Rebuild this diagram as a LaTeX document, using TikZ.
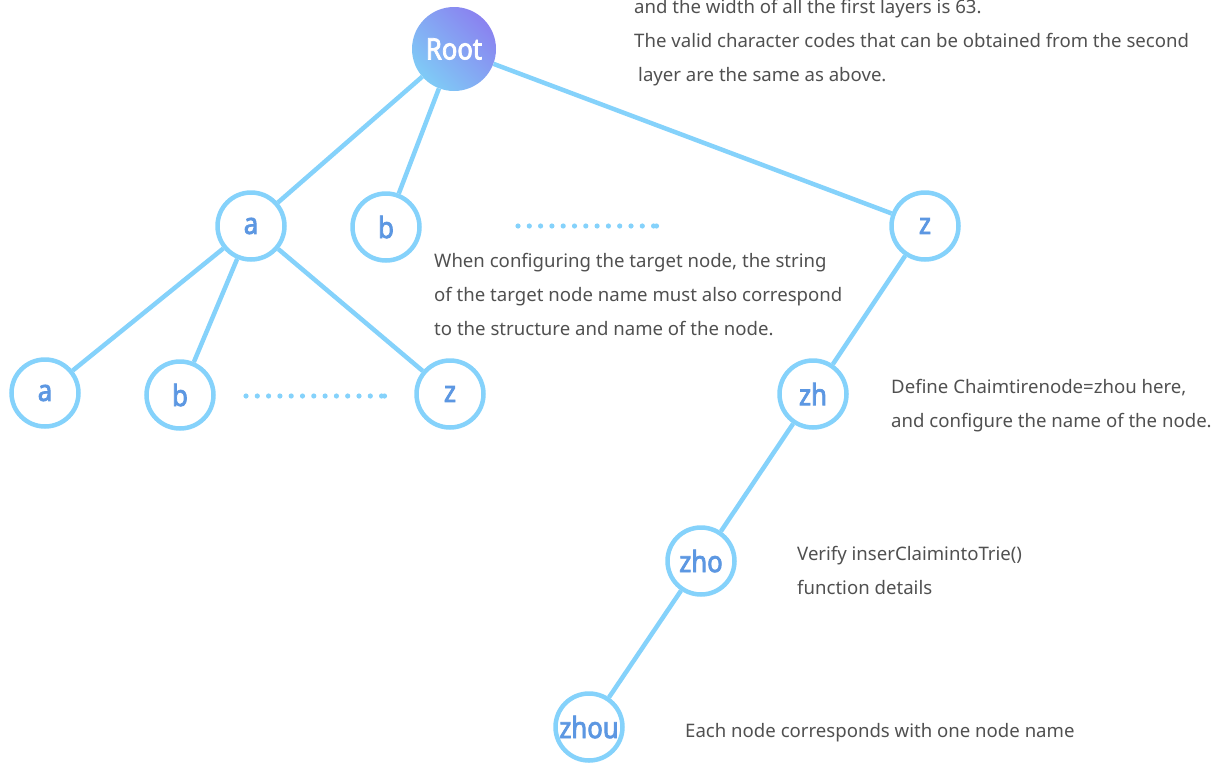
\documentclass[tikz,border=0pt]{standalone}
\usepackage{fontspec}
\setmainfont{Noto Sans}
\newfontfamily\lblfont{Noto Sans}[FakeBold=2.6,FakeStretch=0.87]
\definecolor{edge}{HTML}{85D2FB}
\definecolor{lbl}{HTML}{5C97E2}
\definecolor{txt}{HTML}{505050}
\definecolor{gA}{HTML}{7FCBF6}
\definecolor{gB}{HTML}{4A8BE2}
\definecolor{gC}{HTML}{8A82F0}
\tikzset{
  trienode/.style={circle, draw=edge, line width=4.5pt, minimum size=67pt, inner sep=0pt, fill=white,
    text=lbl, font=\lblfont\fontsize{29.5}{29.5}\selectfont},
  rootnode/.style={circle, minimum size=84pt, inner sep=0pt, shading=axis,
    bottom color=gA, middle color=gB, top color=gC, shading angle=-45,
    text=white, font=\lblfont\fontsize{29.5}{29.5}\selectfont},
  conn/.style={draw=edge, line width=4.5pt},
  note/.style={anchor=base west, inner sep=0pt, text=txt, font=\fontsize{18.6}{34}\selectfont},
  dotmark/.style={fill=edge}
}
\begin{document}
\begin{tikzpicture}[x=1pt,y=-1pt]
\useasboundingbox (0,0) rectangle (1223,763);
% nodes
\node[rootnode] (root) at (454,49) {Root};
\node[trienode] (a1) at (251,226) {a};
\node[trienode] (b1) at (386,227) {b};
\node[trienode] (z1) at (925,226) {z};
\node[trienode] (a2) at (45,393) {a};
\node[trienode] (b2) at (180,395) {b};
\node[trienode] (z2) at (450,394) {z};
\node[trienode] (zh) at (813,394) {zh};
\node[trienode] (zho) at (701,561) {zho};
\node[trienode] (zhou) at (589,727) {zhou};
% connectors
\draw[conn] (root) -- (a1);
\draw[conn] (root) -- (b1);
\draw[conn] (root) -- (z1);
\draw[conn] (a1) -- (a2);
\draw[conn] (a1) -- (b2);
\draw[conn] (a1) -- (z2);
\draw[conn] (z1) -- (zh);
\draw[conn] (zh) -- (zho);
\draw[conn] (zho) -- (zhou);
% dots
\foreach \i in {0,...,12} {\fill[dotmark] (518+11.3*\i,226) circle (2.6);}
\fill[dotmark] (656.5,226) circle (2.6);
\foreach \i in {0,...,12} {\fill[dotmark] (246+11.3*\i,396) circle (2.6);}
\fill[dotmark] (384.5,396) circle (2.6);
% notes
\node[note] (t1) at (634,13) {and the width of all the first layers is 63.};
\node[note] (t2) at (634,47) {The valid character codes that can be obtained from the second};
\node[note] (t3) at (638,81) {layer are the same as above.};
\node[note] (m1) at (434,267) {When configuring the target node, the string};
\node[note] (m2) at (434,301) {of the target node name must also correspond};
\node[note] (m3) at (434,335) {to the structure and name of the node.};
\node[note] (r1) at (891,393) {Define Chaimtirenode=zhou here,};
\node[note] (r2) at (891,427) {and configure the name of the node.};
\node[note] (v1) at (797,560) {Verify inserClaimintoTrie()};
\node[note] (v2) at (797,594) {function details};
\node[note] (e1) at (685,737) {Each node corresponds with one node name};
\end{tikzpicture}
\end{document}
